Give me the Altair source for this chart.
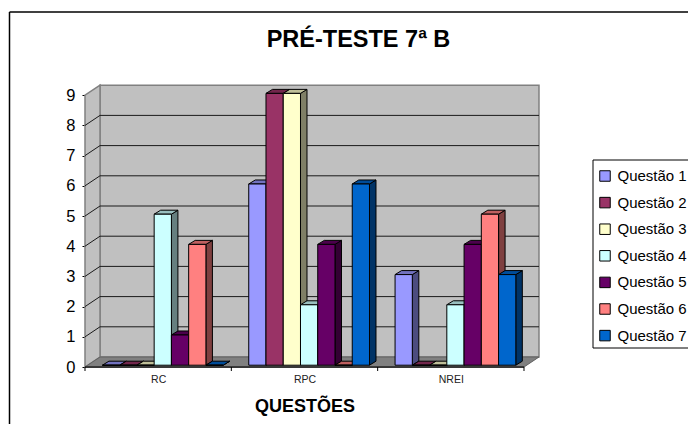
import altair as alt
import pandas as pd

categories = ["RC", "RPC", "NREI"]
series = ["Questão 1", "Questão 2", "Questão 3", "Questão 4", "Questão 5", "Questão 6", "Questão 7"]
rc_values = [0, 0, 0, 5, 1, 4, 0]
rpc_values = [6, 9, 9, 2, 4, 0, 6]
nrei_values = [3, 0, 0, 2, 4, 5, 3]
colors = ["#9999FF", "#993366", "#FFFFCC", "#CCFFFF", "#660066", "#FF8080", "#0066CC"]
y_ticks = list(range(10))

W, H = 680, 416
X0, UX = 85 - 8, 146.33   # plot-space origin and px per category
Y0, UY = 367 - 8, 30.2    # plot-space zero and px per value
x_dom = [(0 - X0) / UX, (W - X0) / UX]
y_dom = [(Y0 - H) / UY, Y0 / UY]
WALL_DX, WALL_DY = 15 / UX, 10 / UY
BAR_W = 17.25 / UX
BAR_START = 0.119
BAR_DX, BAR_DY = 6.5 / UX, 4 / UY
BASE = 0.06


def shade(hex_color, k):
    r, g, b = (int(hex_color[i:i + 2], 16) for i in (1, 3, 5))
    return "#%02x%02x%02x" % (int(r * k), int(g * k), int(b * k))


fronts, sides, tops = [], [], []
for g, (cat, vals) in enumerate(zip(categories, [rc_values, rpc_values, nrei_values])):
    for s, (name, v) in enumerate(zip(series, vals)):
        x0 = g + BAR_START + s * BAR_W
        x1 = x0 + BAR_W
        bid = f"{g}-{s}"
        fronts.append(dict(x=x0, x2=x1, y=BASE, y2=BASE + v, serie=name))
        sides.append(dict(id=bid, x=x1, y=BASE, y2=BASE + v, c=shade(colors[s], 0.5)))
        sides.append(dict(id=bid, x=x1 + BAR_DX, y=BASE + BAR_DY, y2=BASE + v + BAR_DY, c=shade(colors[s], 0.5)))
        tops.append(dict(id=bid, y=BASE + v, x=x0, x2=x1, c=shade(colors[s], 0.75)))
        tops.append(dict(id=bid, y=BASE + v + BAR_DY, x=x0 + BAR_DX, x2=x1 + BAR_DX, c=shade(colors[s], 0.75)))

xs = alt.Scale(domain=x_dom, nice=False, zero=False)
ys = alt.Scale(domain=y_dom, nice=False, zero=False)
X = alt.X("x:Q", scale=xs)
Y = alt.Y("y:Q", scale=ys)
n = len(categories)
top_v = max(y_ticks)

# axes (first layer so that its titles and labels are the ones used)
axis_layer = alt.Chart(pd.DataFrame([dict(x=0, y=0), dict(x=n, y=0)])).mark_line(stroke="black", strokeWidth=1).encode(
    alt.X(
        "x:Q", scale=xs,
        axis=alt.Axis(
            title="QUESTÕES",
            values=[i + 0.5 for i in range(n)],
            labelExpr="['" + "','".join(categories) + "'][floor(datum.value)]",
            offset=-(H - Y0), tickSize=0, domain=False, grid=False, labelFontSize=10.5,
            labelFont="Liberation Sans", labelColor="#222", labelPadding=7,
            titleFont="Liberation Sans", titleFontSize=18, titleFontWeight="bold", titleColor="black",
            titleX=304.5 - 8, titleY=44.7, titleAlign="center", titleBaseline="alphabetic",
        ),
    ),
    alt.Y(
        "y:Q", scale=ys,
        axis=alt.Axis(
            title=" ", values=y_ticks, offset=-X0, tickSize=3, tickColor="black", domain=False, grid=False,
            labelFontSize=16.5, labelFont="Liberation Sans", labelColor="black", labelPadding=7, format="d",
        ),
    ),
)

# walls and floor
back = alt.Chart(pd.DataFrame([dict(x=WALL_DX, x2=n + WALL_DX, y=WALL_DY, y2=top_v + WALL_DY)])).mark_rect(
    fill="#C0C0C0", stroke="#808080", strokeWidth=1.5
).encode(X, x2="x2:Q", y=Y, y2="y2:Q")
left = alt.Chart(pd.DataFrame([dict(x=0, y=0, y2=top_v), dict(x=WALL_DX, y=WALL_DY, y2=top_v + WALL_DY)])).mark_area(
    fill="#C0C0C0", stroke="#808080", strokeWidth=1.5, orient="vertical"
).encode(X, y=Y, y2="y2:Q")
floor = alt.Chart(pd.DataFrame([dict(y=0, x=0, x2=n), dict(y=WALL_DY, x=WALL_DX, x2=n + WALL_DX)])).mark_area(
    fill="#808080", stroke="#606060", strokeWidth=1, orient="horizontal"
).encode(X, x2="x2:Q", y=Y)

grid_rows = []
for v in y_ticks[1:-1]:
    grid_rows += [dict(k=v, o=0, x=0, y=v), dict(k=v, o=1, x=WALL_DX, y=v + WALL_DY), dict(k=v, o=2, x=n + WALL_DX, y=v + WALL_DY)]
grid = alt.Chart(pd.DataFrame(grid_rows)).mark_line(stroke="#1a1a1a", strokeWidth=1).encode(
    X, y=Y, detail="k:N", order="o:Q"
)
x_base = alt.Chart(pd.DataFrame([dict(x=0, y=0), dict(x=n, y=0)])).mark_line(stroke="black", strokeWidth=1).encode(X, y=Y)

side_layer = alt.Chart(pd.DataFrame(sides)).mark_area(stroke="black", strokeWidth=1, orient="vertical").encode(
    X, y=Y, y2="y2:Q", detail="id:N", color=alt.Color("c:N", scale=None)
)
top_layer = alt.Chart(pd.DataFrame(tops)).mark_area(stroke="black", strokeWidth=1, orient="horizontal").encode(
    X, x2="x2:Q", y=Y, detail="id:N", color=alt.Color("c:N", scale=None)
)
front_layer = alt.Chart(pd.DataFrame(fronts)).mark_rect(stroke="black", strokeWidth=1).encode(
    X, x2="x2:Q", y=Y, y2="y2:Q",
    fill=alt.Fill(
        "serie:N",
        scale=alt.Scale(domain=series, range=colors),
        legend=alt.Legend(
            title=None, orient="none", legendX=581.5, legendY=152, symbolType="square", symbolSize=110,
            symbolStrokeColor="black", symbolStrokeWidth=1, symbolOpacity=1, labelFontSize=15,
            labelFont="Liberation Sans", labelColor="black", labelOffset=5, rowPadding=10.6, padding=8,
            labelLimit=200, clipHeight=16,
        ),
    ),
)

x_ticks = alt.Chart(pd.DataFrame({"x": list(range(n + 1))})).mark_rule(stroke="black", strokeWidth=1).encode(
    x=alt.X("x:Q", scale=xs), y=alt.value(Y0), y2=alt.value(Y0 + 4)
)

# chart-area frame and legend frame (right and bottom are cut off in the original)
one = pd.DataFrame({"a": [1]})
def rule_v(x, y, y2, w=1.5):
    return alt.Chart(one).mark_rule(stroke="black", strokeWidth=w).encode(x=alt.value(x), y=alt.value(y), y2=alt.value(y2))
def rule_h(y, x, x2, w=1.5):
    return alt.Chart(one).mark_rule(stroke="black", strokeWidth=w).encode(y=alt.value(y), x=alt.value(x), x2=alt.value(x2))

chart = alt.layer(
    axis_layer, back, left, floor, grid, x_base, x_ticks, side_layer, top_layer, front_layer,
    rule_v(1.5, 4, H), rule_h(4, 1.5, W),
    rule_v(585, 152, 340, 1), rule_h(152, 585, W, 1), rule_h(340, 585, W, 1),
).properties(
    width=W, height=H, padding=0, autosize=alt.AutoSizeParams(type="none"), background="white",
    title=alt.TitleParams(
        "PRÉ-TESTE 7ª B", font="Liberation Sans", fontSize=23.5, fontWeight="bold", color="black",
        anchor="middle", dx=358.5 - 8 - W / 2, offset=-62.5, baseline="alphabetic",
    ),
).configure_view(stroke=None).resolve_scale(color="independent")

chart.save("out.html", embed_options={"renderer": "svg", "actions": False})
